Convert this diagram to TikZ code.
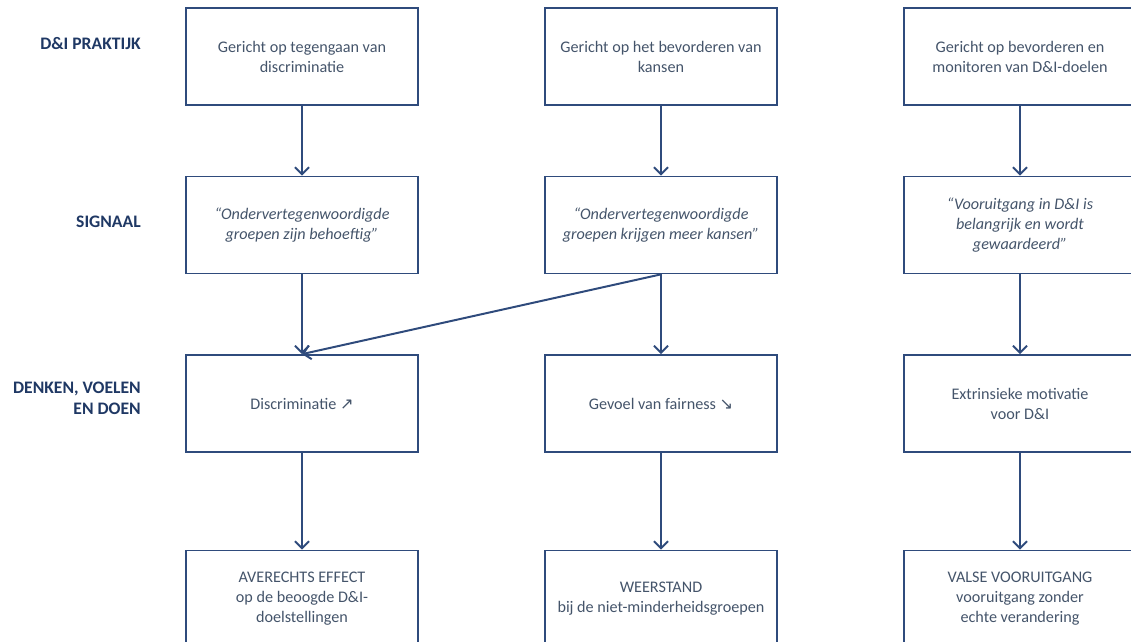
\documentclass[tikz,border=0pt]{standalone}
\usepackage{fontspec}
\setmainfont{Carlito}
\newfontfamily\pijlfont{DejaVu Sans}
\usetikzlibrary{arrows.meta}

\definecolor{kaderblauw}{HTML}{2F4B7C}
\definecolor{tekstblauw}{HTML}{44546A}
\definecolor{labelblauw}{HTML}{1F3864}

\tikzset{
  blok/.style={draw=kaderblauw, line width=1.2pt, minimum width=5.8cm,
    minimum height=2.425cm, align=center, text=tekstblauw, inner sep=0pt,
    font=\fontsize{11.5}{14.2}\selectfont},
  rij/.style={anchor=east, align=right, text=labelblauw, inner sep=0pt,
    font=\bfseries\fontsize{12.5}{15}\selectfont},
  pijl/.style={draw=kaderblauw, line width=1.4pt,
    -{Straight Barb[length=5pt,width=10pt]}},
}

\begin{document}
\begin{tikzpicture}[x=0.025cm, y=-0.025cm] % 1 eenheid = 1 pixel

    \useasboundingbox (0,0) rectangle (1131,642);

    % 1. rijlabels links
    \node[rij] (lprak) at (141,44)  {D\&I PRAKTIJK};
    \node[rij] (lsig)  at (141,222) {SIGNAAL};
    \node[rij] (ldenk) at (141,398) {DENKEN, VOELEN\\EN DOEN};

    % 2. praktijk
    \node[blok] (prak1) at (302,56.5)  {Gericht op tegengaan van\\discriminatie};
    \node[blok] (prak2) at (661,56.5)  {Gericht op het bevorderen van\\kansen};
    \node[blok] (prak3) at (1020,56.5) {Gericht op bevorderen en\\monitoren van D\&I-doelen};

    % 3. signaal (cursief)
    \node[blok, font=\itshape\fontsize{11.5}{14.2}\selectfont] (sig1) at (302,225)
      {``Ondervertegenwoordigde\\groepen zijn behoeftig''};
    \node[blok, font=\itshape\fontsize{11.5}{14.2}\selectfont] (sig2) at (661,225)
      {``Ondervertegenwoordigde\\groepen krijgen meer kansen''};
    \node[blok, font=\itshape\fontsize{11.5}{14.2}\selectfont] (sig3) at (1020,225)
      {``Vooruitgang in D\&I is\\belangrijk en wordt\\gewaardeerd''};

    % 4. denken, voelen en doen
    \node[blok] (denk1) at (302,403.5)  {Discriminatie {\pijlfont ↗}};
    \node[blok] (denk2) at (661,403.5)  {Gevoel van fairness {\pijlfont ↘}};
    \node[blok] (denk3) at (1020,403.5) {Extrinsieke motivatie\\voor D\&I};

    % 5. effect
    \node[blok] (eff1) at (302,599)  {AVERECHTS EFFECT\\op de beoogde D\&I-\\doelstellingen};
    \node[blok] (eff2) at (661,599)  {WEERSTAND\\bij de niet-minderheidsgroepen};
    \node[blok] (eff3) at (1020,599) {VALSE VOORUITGANG\\vooruitgang zonder\\echte verandering};

    % 6. pijlen
    \foreach \k in {1,2,3} {
      \draw[pijl] (prak\k) -- (sig\k);
      \draw[pijl] (sig\k) -- (denk\k);
      \draw[pijl] (denk\k) -- (eff\k);
    }
    \draw[pijl] (sig2.south) -- (denk1.north);

  \end{tikzpicture}
\end{document}
